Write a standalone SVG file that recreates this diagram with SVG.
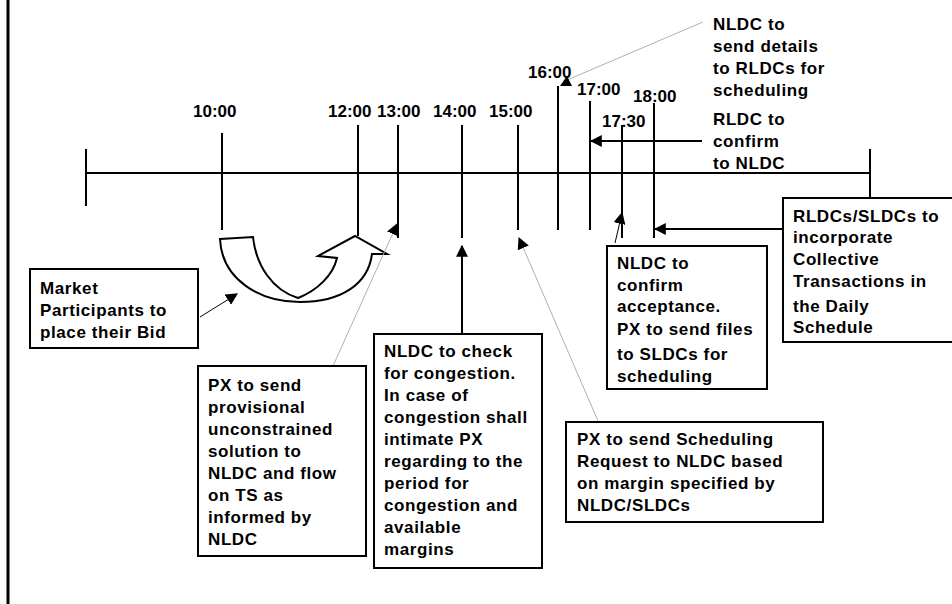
<svg xmlns="http://www.w3.org/2000/svg" width="952" height="604" viewBox="0 0 952 604">
<style>
text{font-family:"Liberation Sans",Arial,sans-serif;font-weight:bold;font-size:17px;fill:#000}
.b{letter-spacing:0.6px}
.box{fill:#fff;stroke:#000;stroke-width:2}
.ln{stroke:#000;stroke-width:2;fill:none}
.thin{stroke:#000;stroke-width:1;fill:none}
.gray{stroke:#b0b0b0;stroke-width:1;fill:none}
.ah{fill:#000}
</style>
<defs>
<marker id="arr" viewBox="0 0 10 10" refX="9" refY="5" markerWidth="12" markerHeight="12" markerUnits="userSpaceOnUse" orient="auto">
<path d="M0,0 L10,5 L0,10 Z" fill="#000"/>
</marker>
</defs>
<rect width="952" height="604" fill="#fff"/>
<line x1="8" y1="0" x2="8" y2="604" stroke="#000" stroke-width="3"/>

<g id="timeline">
<line class="ln" x1="86" y1="173" x2="870" y2="173"/>
<line class="ln" x1="86" y1="149" x2="86" y2="206"/>
<line class="ln" x1="870" y1="149" x2="870" y2="206"/>
<line class="ln" x1="222" y1="133" x2="222" y2="230"/>
<line class="ln" x1="358" y1="125" x2="358" y2="236"/>
<line class="ln" x1="398" y1="125" x2="398" y2="238"/>
<line class="ln" x1="462" y1="125" x2="462" y2="238"/>
<line class="ln" x1="518" y1="125" x2="518" y2="230"/>
<line class="ln" x1="558" y1="86" x2="558" y2="230"/>
<line class="ln" x1="590" y1="101" x2="590" y2="230"/>
<line class="ln" x1="622" y1="125" x2="622" y2="238"/>
<line class="ln" x1="654" y1="103" x2="654" y2="238"/>
</g>

<g id="time-labels">
<text x="193" y="117">10:00</text>
<text x="328" y="117">12:00</text>
<text x="377" y="117">13:00</text>
<text x="433" y="117">14:00</text>
<text x="489" y="117">15:00</text>
<text x="528" y="78">16:00</text>
<text x="577" y="95">17:00</text>
<text x="602" y="127">17:30</text>
<text x="633" y="102">18:00</text>
</g>

<g id="uturn-arrow">
<path d="M220,239 L253,237 C256,265 272,290 298,298 C318,290 333,275 337,258 L318,256 L355,236 L387,254 L372,254 C368,285 340,302 300,302 C260,302 222,280 220,239 Z" fill="#fff" stroke="#000" stroke-width="2" stroke-linejoin="miter"/>
</g>

<g id="connectors">
<line class="thin" x1="200" y1="317" x2="237" y2="294" marker-end="url(#arr)"/>
<line class="gray" x1="333" y1="366" x2="397" y2="224" marker-end="url(#arr)"/>
<line class="ln" x1="462" y1="334" x2="462" y2="246" marker-end="url(#arr)"/>
<line class="gray" x1="598" y1="421" x2="519" y2="238" marker-end="url(#arr)"/>
<line class="gray" x1="703" y1="22" x2="567" y2="80"/>
<polygon class="ah" points="560,86 572,86 567,76"/>
<line class="ln" x1="702" y1="141" x2="591" y2="141" marker-end="url(#arr)"/>
<line class="thin" x1="615" y1="243" x2="622" y2="213" marker-end="url(#arr)"/>
<line class="ln" x1="783" y1="229" x2="655" y2="229" marker-end="url(#arr)"/>
</g>

<g id="node-market">
<rect class="box" x="30" y="269" width="168" height="79"/>
<text class="b" x="40" y="294">Market</text>
<text class="b" x="40" y="316">Participants to</text>
<text class="b" x="40" y="338">place their Bid</text>
</g>

<g id="node-px-provisional">
<rect class="box" x="198" y="366" width="168" height="190"/>
<text class="b" x="208" y="391">PX to send</text>
<text class="b" x="208" y="413">provisional</text>
<text class="b" x="208" y="435">unconstrained</text>
<text class="b" x="208" y="457">solution to</text>
<text class="b" x="208" y="479">NLDC and flow</text>
<text class="b" x="208" y="501">on TS as</text>
<text class="b" x="208" y="523">informed by</text>
<text class="b" x="208" y="545">NLDC</text>
</g>

<g id="node-nldc-check">
<rect class="box" x="374" y="334" width="168" height="234"/>
<text class="b" x="384" y="357">NLDC to check</text>
<text class="b" x="384" y="379">for congestion.</text>
<text class="b" x="384" y="401">In case of</text>
<text class="b" x="384" y="423">congestion shall</text>
<text class="b" x="384" y="445">intimate PX</text>
<text class="b" x="384" y="467">regarding to the</text>
<text class="b" x="384" y="489">period for</text>
<text class="b" x="384" y="511">congestion and</text>
<text class="b" x="384" y="533">available</text>
<text class="b" x="384" y="555">margins</text>
</g>

<g id="node-px-scheduling">
<rect class="box" x="566" y="422" width="257" height="100"/>
<text class="b" x="577" y="445">PX to send Scheduling</text>
<text class="b" x="577" y="467">Request to NLDC based</text>
<text class="b" x="577" y="489">on margin specified by</text>
<text class="b" x="577" y="511">NLDC/SLDCs</text>
</g>

<g id="node-nldc-confirm">
<rect class="box" x="607" y="246" width="160" height="143"/>
<text class="b" x="617" y="269">NLDC to</text>
<text class="b" x="617" y="291">confirm</text>
<text class="b" x="617" y="312">acceptance.</text>
<text class="b" x="617" y="335">PX to send files</text>
<text class="b" x="617" y="360">to SLDCs for</text>
<text class="b" x="617" y="382">scheduling</text>
</g>

<g id="node-rldcs-sldcs">
<rect class="box" x="783" y="198" width="170" height="144"/>
<text class="b" x="793" y="222">RLDCs/SLDCs to</text>
<text class="b" x="793" y="243">incorporate</text>
<text class="b" x="793" y="265">Collective</text>
<text class="b" x="793" y="287">Transactions in</text>
<text class="b" x="793" y="312">the Daily</text>
<text class="b" x="793" y="333">Schedule</text>
</g>

<g id="node-nldc-send">
<text class="b" x="713" y="30">NLDC to</text>
<text class="b" x="713" y="52">send details</text>
<text class="b" x="713" y="74">to RLDCs for</text>
<text class="b" x="713" y="96">scheduling</text>
</g>

<g id="node-rldc-confirm">
<text class="b" x="713" y="125">RLDC to</text>
<text class="b" x="713" y="147">confirm</text>
<text class="b" x="713" y="169">to NLDC</text>
</g>
</svg>
